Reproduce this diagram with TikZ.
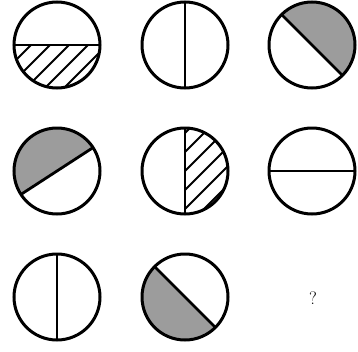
\documentclass[tikz,border=0pt]{standalone}
\usepackage{tikz}
\usetikzlibrary{calc}
\definecolor{halfgrey}{HTML}{9C9C9C}

\begin{document}
\begin{tikzpicture}[x=1pt,y=1pt,every node/.style={font=\small}]
    \tikzstyle{disc}=[draw,circle,line width=3pt,minimum size=86pt,inner sep=0pt,outer sep=0pt];
    \tikzstyle{dia}=[line width=2.8pt];
    \tikzstyle{hatch}=[line width=2pt];
    \def\r{43}
    \useasboundingbox (0,0) rectangle (358,-351);
    % centres of the nine cells
    \coordinate (c11) at (57,-45);  \coordinate (c12) at (185,-45);  \coordinate (c13) at (312,-45);
    \coordinate (c21) at (57,-171); \coordinate (c22) at (185,-171); \coordinate (c23) at (312,-171);
    \coordinate (c31) at (57,-297); \coordinate (c32) at (185,-297); \coordinate (c33) at (313,-298);

    % grey halves
    \fill[halfgrey] (c13) ++(135:\r) arc[start angle=135,end angle=-45,radius=\r] -- cycle;
    \fill[halfgrey] (c21) ++(33:\r) arc[start angle=33,end angle=213,radius=\r] -- cycle;
    \fill[halfgrey] (c32) ++(135:\r) arc[start angle=135,end angle=315,radius=\r] -- cycle;

    % hatched halves
    \begin{scope}
      \clip (c11) ++(180:\r) arc[start angle=180,end angle=360,radius=\r] -- cycle;
      \foreach \k in {-6,...,4}
        \draw[hatch] ($(c11)+(\k*19,-50)$) -- ++(60,60);
    \end{scope}
    \begin{scope}
      \clip (c22) ++(90:\r) arc[start angle=90,end angle=-90,radius=\r] -- cycle;
      \foreach \k in {-5,...,5}
        \draw[hatch] ($(c22)+(-5,\k*19-5)$) -- ++(60,60);
    \end{scope}

    % the circles
    \node[disc] (d11) at (c11) {};
    \node[disc] (d12) at (c12) {};
    \node[disc] (d13) at (c13) {};
    \node[disc] (d21) at (c21) {};
    \node[disc] (d22) at (c22) {};
    \node[disc] (d23) at (c23) {};
    \node[disc] (d31) at (c31) {};
    \node[disc] (d32) at (c32) {};

    % diameters
    \draw[dia] (d11.180) -- (d11.0);
    \draw[dia] (d12.90)  -- (d12.270);
    \draw[dia] (d13.135) -- (d13.315);
    \draw[dia] (d21.33)  -- (d21.213);
    \draw[dia] (d22.90)  -- (d22.270);
    \draw[dia] (d23.180) -- (d23.0);
    \draw[dia] (d31.90)  -- (d31.270);
    \draw[dia] (d32.135) -- (d32.315);

    \node[font=\fontsize{18}{20}\selectfont] (q) at (c33) {?};
\end{tikzpicture}
\end{document}
